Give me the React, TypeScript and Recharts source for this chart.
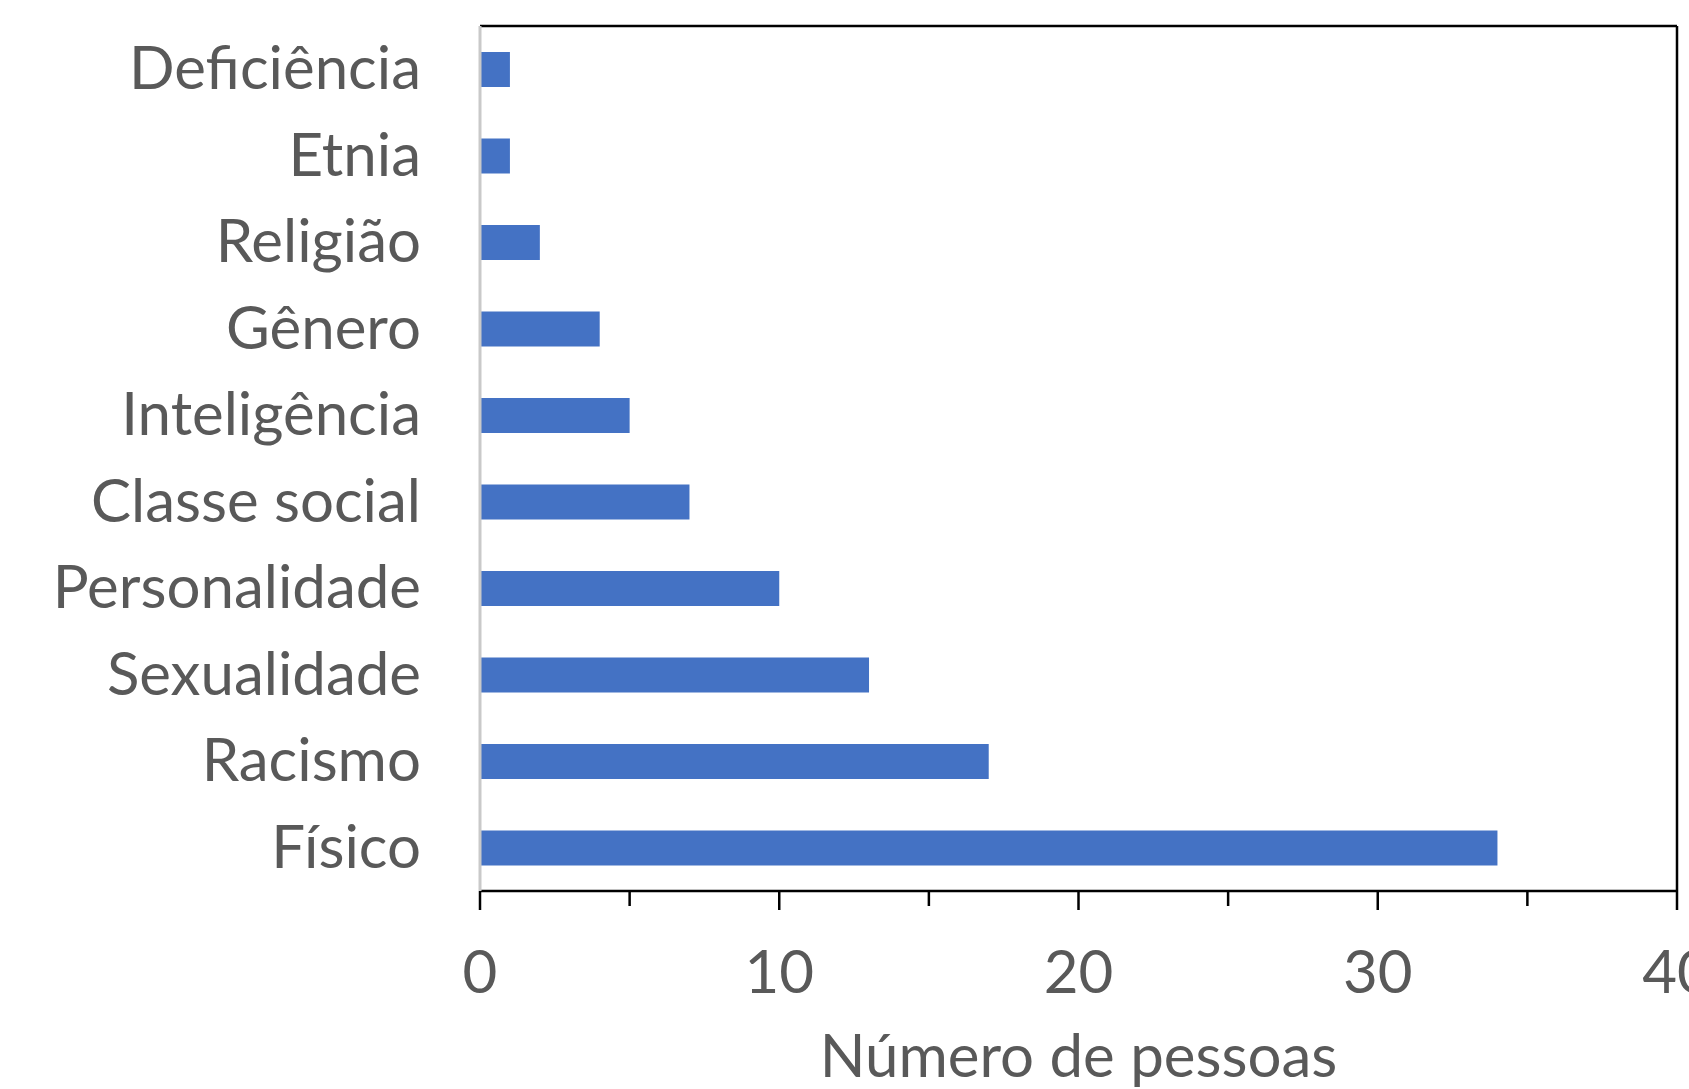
import React from 'react';
import { BarChart, Bar, XAxis, YAxis, ReferenceLine } from 'recharts';

const categories = [
  'Deficiência',
  'Etnia',
  'Religião',
  'Gênero',
  'Inteligência',
  'Classe social',
  'Personalidade',
  'Sexualidade',
  'Racismo',
  'Físico',
];
const counts = [1, 1, 2, 4, 5, 7, 10, 13, 17, 34];
const xTicks = [0, 5, 10, 15, 20, 25, 30, 35, 40];

const data = categories.map((name, i) => ({ name, value: counts[i] }));

const FONT = 'Lato, "Open Sans", sans-serif';
const TEXT = '#595959';
const FS = 60;

const XTick = ({ x, y, payload }: any) => {
  const major = payload.value % 10 === 0;
  return (
    <g>
      <line x1={x} x2={x} y1={y} y2={y + (major ? 19 : 15)} stroke="#000" strokeWidth={2.5} />
      {major && (
        <text x={x} y={y + 102} textAnchor="middle" fill={TEXT} fontSize={FS} fontFamily={FONT}>
          {payload.value}
        </text>
      )}
    </g>
  );
};

const YTick = ({ x, y, payload }: any) => (
  <text x={x - 59} y={y + 20} textAnchor="end" fill={TEXT} fontSize={FS} fontFamily={FONT}>
    {payload.value}
  </text>
);

export default function App() {
  return (
    <div style={{ position: 'absolute', left: 0, top: 0, background: '#fff' }}>
      <BarChart
        width={1689}
        height={1089}
        data={data}
        layout="vertical"
        margin={{ top: 26, right: 12, bottom: 0, left: 0 }}
        barCategoryGap="30%"
      >
        <XAxis
          type="number"
          domain={[0, 40]}
          ticks={xTicks}
          interval={0}
          height={198}
          tickSize={0}
          tickMargin={0}
          tickLine={false}
          tick={<XTick />}
          axisLine={{ stroke: '#000', strokeWidth: 2.5 }}
          label={{ value: 'Número de pessoas', position: 'insideBottom', offset: 12, fill: TEXT, fontSize: FS, fontFamily: FONT }}
        />
        <YAxis
          type="category"
          dataKey="name"
          width={480}
          tickSize={0}
          tickMargin={0}
          tickLine={false}
          tick={<YTick />}
          interval={0}
          axisLine={{ stroke: '#c9c9c9', strokeWidth: 3 }}
        />
        <ReferenceLine y={categories[0]} position="start" stroke="#000" strokeWidth={2.5} />
        <ReferenceLine x={40} stroke="#000" strokeWidth={2.5} />
        <Bar dataKey="value" fill="#4472C4" isAnimationActive={false} />
      </BarChart>
    </div>
  );
}
